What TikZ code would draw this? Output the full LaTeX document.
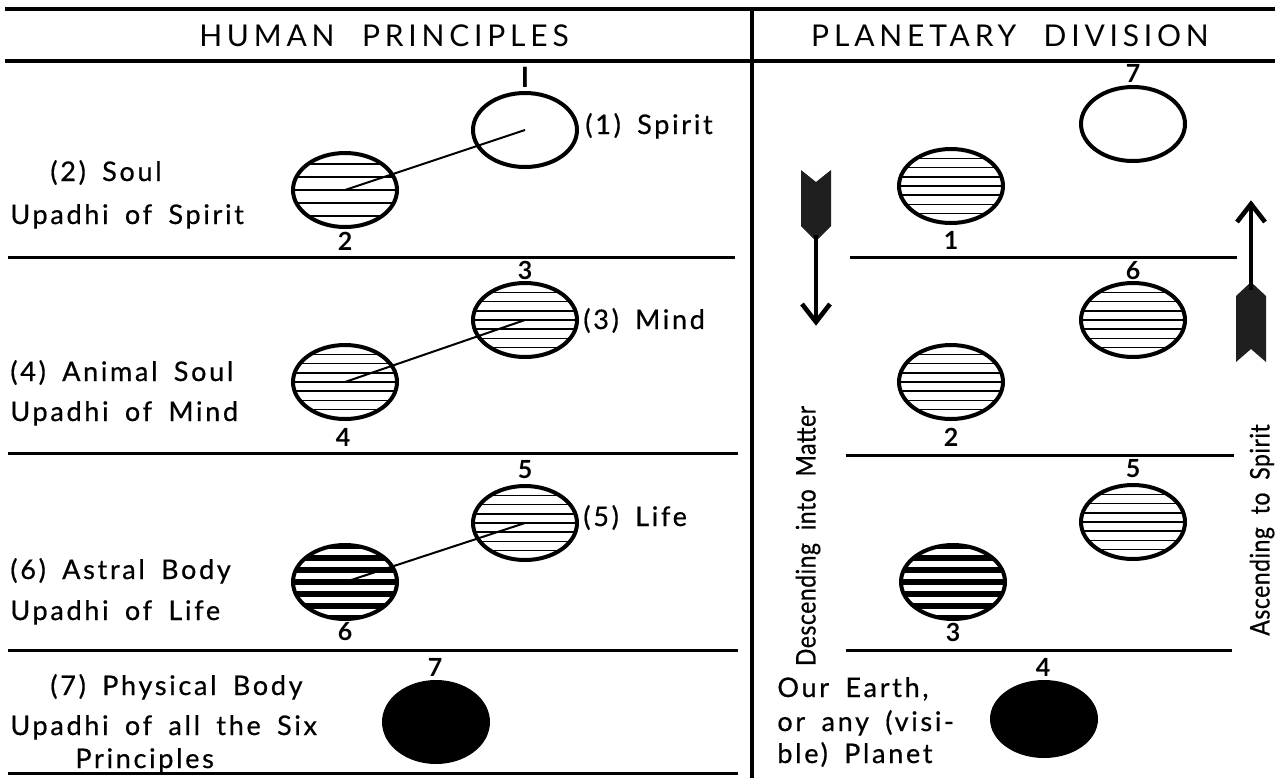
\documentclass[tikz,border=0pt]{standalone}
\usepackage{fontspec}
\setmainfont{Lato}
\newfontfamily\bodyfont[LetterSpace=10,WordSpace=1.7,FakeBold=0.6]{Lato}
\newfontfamily\headfont[LetterSpace=16,WordSpace=2.2]{Lato}
\newfontfamily\condfont[FakeStretch=0.85,LetterSpace=2,WordSpace=2,FakeBold=0.6]{Lato}
\newfontfamily\numfont{Lato}
\usetikzlibrary{shapes.geometric}
\begin{document}
\begin{tikzpicture}[x=0.5pt,y=-0.5pt,
  rule/.style={line width=1.5pt},
  hrule/.style={line width=2pt},
  conn/.style={line width=1pt},
  orb/.style={draw, line width=2pt, ellipse, minimum width=52pt, minimum height=37pt, inner sep=0pt},
  solid orb/.style={orb, fill=black},
  hatch/.style 2 args={path picture={\foreach \k in {-9,...,9}{\draw[line width=#2] ([yshift=\k*#1]path picture bounding box.west) -- ([yshift=\k*#1]path picture bounding box.east);}}},
  fine hatch/.style={hatch={4.6pt}{0.85pt}},
  sparse hatch/.style={hatch={6.5pt}{1pt}},
  dark hatch/.style={hatch={6pt}{3.2pt}},
  numlbl/.style={font=\numfont\bfseries\fontsize{12.5}{12.5}\selectfont, inner sep=0pt},
  head/.style={font=\headfont\fontsize{15}{15}\selectfont, inner sep=0pt},
  body/.style={font=\bodyfont\fontsize{13.5}{13.5}\selectfont, inner sep=0pt, anchor=base west},
  vert/.style={font=\condfont\fontsize{13.5}{13.5}\selectfont, inner sep=0pt, rotate=90},
  feather/.style={fill=black!88},
  shaft/.style={line width=2pt},
  tip/.style={line width=2.3pt, line join=miter}
]
\useasboundingbox (0,0) rectangle (1275,778);

% frame rules
\draw[hrule] (5,9) -- (1275,9);
\draw[hrule] (5,61) -- (1275,61);
\draw[line width=1.6pt] (752,9) -- (752,778);
\draw[rule] (8,257) -- (735,257);
\draw[rule] (8,453) -- (738,453);
\draw[rule] (8,650) -- (738,650);
\draw[rule] (8,773) -- (738,773);
\draw[rule] (850,257) -- (1237,257);
\draw[rule] (846,455) -- (1234,455);
\draw[rule] (846,650) -- (1232,650);

% headers
\node[head] (hp) at (384,36) {HUMAN PRINCIPLES};
\node[head] (pd) at (1010,36) {PLANETARY DIVISION};

% left: human principles
\node[orb] (spirit) at (525,130) {};
\node[orb, sparse hatch] (soul) at (345,190) {};
\node[orb, fine hatch] (mind) at (525,320) {};
\node[orb, fine hatch] (animal) at (345,382) {};
\node[orb, fine hatch] (life) at (525,523) {};
\node[orb, dark hatch] (astral) at (345,582) {};
\node[solid orb, minimum height=40pt] (physical) at (436,722) {};

\draw[conn] (soul.center) -- (spirit.center);
\draw[conn] (animal.center) -- (mind.center);
\draw[conn] (astral.center) -- (life.center);

\node[numlbl, font=\rmfamily\bfseries\fontsize{14}{14}\selectfont] (l1) at (525,77) {I};
\node[numlbl] (l2) at (345,241) {2};
\node[numlbl] (l3) at (525,270) {3};
\node[numlbl] (l4) at (343,437) {4};
\node[numlbl] (l5) at (525,470) {5};
\node[numlbl] (l6) at (345,632) {6};
\node[numlbl] (l7) at (435,667) {7};

\node[body] (t1) at (585,134) {(1) Spirit};
\node[body] (t2a) at (50,181) {(2) Soul};
\node[body] (t2b) at (10,224) {Upadhi of Spirit};
\node[body] (t3) at (583,329) {(3) Mind};
\node[body] (t4a) at (10,381) {(4) Animal Soul};
\node[body] (t4b) at (10,421) {Upadhi of Mind};
\node[body] (t5) at (583,526) {(5) Life};
\node[body] (t6a) at (10,579) {(6) Astral Body};
\node[body] (t6b) at (10,620) {Upadhi of Life};
\node[body] (t7a) at (50,695) {(7) Physical Body};
\node[body] (t7b) at (10,735) {Upadhi of all the Six};
\node[body] (t7c) at (75,768) {Principles};

% right: planetary division
\node[orb] (p7) at (1133,124) {};
\node[orb, fine hatch] (p1) at (951,186) {};
\node[orb, fine hatch] (p6) at (1133,320) {};
\node[orb, fine hatch] (p2) at (951,382) {};
\node[orb, fine hatch] (p5) at (1133,522) {};
\node[orb, dark hatch] (p3) at (953,582) {};
\node[solid orb] (p4) at (1044,719) {};

\node[numlbl] (r7) at (1133,73) {7};
\node[numlbl] (r1) at (951,240) {1};
\node[numlbl] (r6) at (1133,271) {6};
\node[numlbl] (r2) at (951,437) {2};
\node[numlbl] (r5) at (1133,469) {5};
\node[numlbl] (r3) at (953,632) {3};
\node[numlbl] (r4) at (1043,667) {4};

\node[body] (e1) at (777,697) {Our Earth,};
\node[body] (e2) at (777,731) {or any (visi-};
\node[body] (e3) at (777,763) {ble) Planet};

% descending arrow
\fill[feather] (801,170) -- (816,182) -- (831,170) -- (831,226) -- (816,241) -- (801,226) -- cycle;
\draw[shaft] (816,235) -- (816,321);
\draw[tip] (802,304) -- (816,322) -- (830,304);
% ascending arrow
\fill[feather] (1236,296) -- (1251,282) -- (1266,296) -- (1266,362) -- (1251,349) -- (1236,362) -- cycle;
\draw[shaft] (1251,290) -- (1251,205);
\draw[tip] (1237,222) -- (1251,204) -- (1265,222);

\node[vert] (desc) at (808,536) {Descending into Matter};
\node[vert] (asc) at (1262,530) {Ascending to Spirit};
\end{tikzpicture}
\end{document}
